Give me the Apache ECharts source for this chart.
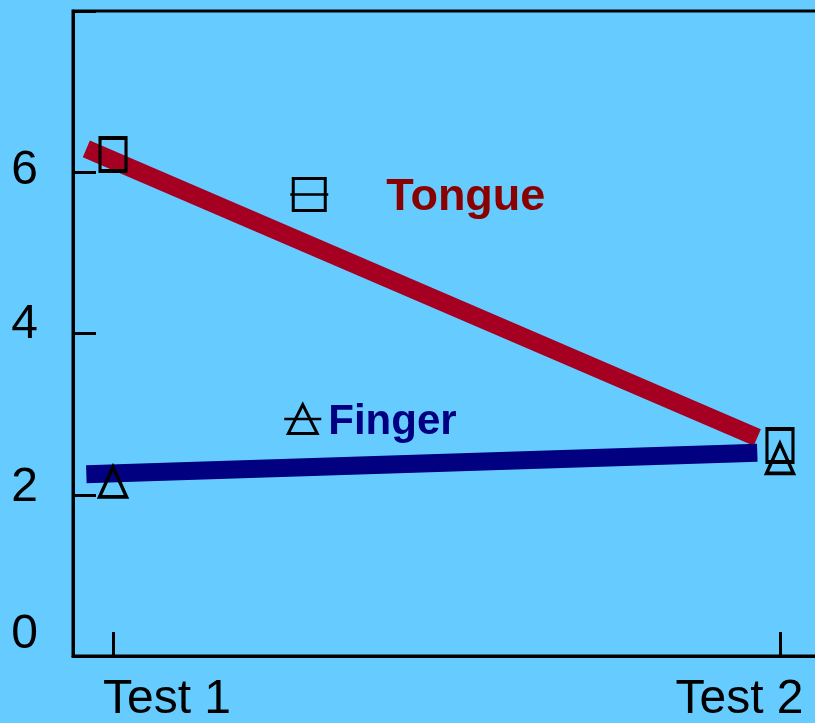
<!DOCTYPE html>
<html>
<head>
	<meta charset="utf-8">
	<title>Tongue vs Finger</title>
	<script src="https://cdn.jsdelivr.net/npm/echarts@6/dist/echarts.min.js"></script>
	<style>
		html, body { margin: 0; padding: 0; background: #66CCFF; }
	</style>
</head>
<body>
	<div id="main" style="width: 815px;height: 723px;"></div>
<script type="text/javascript">
	// x positions: Test 1 = 1, Test 2 = 2
	var testNames = ['Test 1', 'Test 2'];
	var testPos = [1, 2];
	var yTicks = [0, 2, 4, 6, 8];
	var yLabels = [0, 2, 4, 6];

	// observed scores (open markers)
	var tongueScores = [6.22, 2.61];
	var fingerScores = [2.16, 2.45];

	// thick trend lines, [x, y]
	var tongueTrend = [[0.96, 6.29], [1.966, 2.71]];
	var fingerTrend = [[0.96, 2.255], [1.966, 2.52]];

	var font = 'Liberation Sans, Arial, sans-serif';

	function pts(vals) {
		return vals.map(function (v, i) { return [testPos[i], v]; });
	}

	var myChart = echarts.init(document.getElementById('main'));
	var option = {
		backgroundColor: '#66CCFF',
		animation: false,
		grid: {
			left: 73, top: 11, bottom: 67, right: -5,
			show: true, borderColor: '#000', borderWidth: 3,
			backgroundColor: 'transparent',
			outerBoundsMode: 'none'
		},
		xAxis: {
			type: 'value',
			min: 0.94,
			max: 2.06,
			splitLine: {show: false},
			axisLine: {lineStyle: {color: '#000', width: 3}},
			axisTick: {
				inside: true, length: 24,
				lineStyle: {color: '#000', width: 3},
				customValues: testPos
			},
			axisLabel: {
				customValues: testPos,
				margin: 20,
				color: '#000',
				fontFamily: font,
				fontSize: 48,
				formatter: function (v) {
					return v === 1 ? '{a|' + testNames[0] + '}' : '{b|' + testNames[1] + '}';
				},
				rich: {
					a: {fontFamily: font, fontSize: 48, color: '#000', padding: [0, 0, 0, 108]},
					b: {fontFamily: font, fontSize: 48, color: '#000', padding: [0, 81, 0, 0]}
				}
			}
		},
		yAxis: {
			type: 'value',
			min: 0,
			max: 8,
			interval: 2,
			splitLine: {show: false},
			axisLine: {lineStyle: {color: '#000', width: 3}},
			axisTick: {
				inside: true, length: 23,
				lineStyle: {color: '#000', width: 3},
				customValues: yTicks
			},
			axisLabel: {
				customValues: yLabels,
				margin: 35,
				color: '#000',
				fontFamily: font,
				fontSize: 48,
				formatter: function (v) { return '{p' + v + '|' + v + '}'; },
				rich: {
					p0: {fontFamily: font, fontSize: 48, color: '#000', padding: [0, 0, 42, 0]},
					p2: {fontFamily: font, fontSize: 48, color: '#000', padding: [0, 0, 14, 0]},
					p4: {fontFamily: font, fontSize: 48, color: '#000', padding: [0, 0, 18, 0]},
					p6: {fontFamily: font, fontSize: 48, color: '#000', padding: [0, 0, 2, 0]}
				}
			}
		},
		legend: [{
			data: ['Tongue'],
			selectedMode: false,
			left: 289, top: 175,
			padding: 0,
			itemWidth: 38, itemHeight: 40,
			lineStyle: {color: '#000', width: 2.5},
			itemStyle: {color: 'transparent', borderColor: '#000', borderWidth: 3},
			formatter: '{t|{name}}',
			textStyle: {
				rich: {
					t: {fontFamily: font, fontSize: 45, fontWeight: 'bold', color: '#880000', padding: [6, 0, 0, 53]}
				}
			}
		}, {
			data: ['Finger'],
			selectedMode: false,
			left: 283, top: 401,
			padding: 0,
			itemWidth: 37, itemHeight: 36,
			lineStyle: {color: '#000', width: 2.5},
			itemStyle: {color: 'transparent', borderColor: '#000', borderWidth: 3},
			formatter: '{t|{name}}',
			textStyle: {
				rich: {
					t: {fontFamily: font, fontSize: 42, fontWeight: 'bold', color: '#000080', padding: [6, 0, 0, 2]}
				}
			}
		}],
		series: [{
			name: 'Tongue',
			type: 'line',
			symbol: 'rect',
			showSymbol: false,
			lineStyle: {color: '#A50021', width: 18, cap: 'butt'},
			itemStyle: {color: '#A50021'},
			data: tongueTrend,
			z: 2
		}, {
			name: 'Finger',
			type: 'line',
			symbol: 'triangle',
			showSymbol: false,
			lineStyle: {color: '#000080', width: 18, cap: 'butt'},
			itemStyle: {color: '#000080'},
			data: fingerTrend,
			z: 2
		}, {
			name: 'Tongue scores',
			type: 'scatter',
			symbol: 'rect',
			symbolSize: [26, 33],
			itemStyle: {color: 'transparent', borderColor: '#000', borderWidth: 3.5, opacity: 1},
			data: pts(tongueScores),
			z: 5
		}, {
			name: 'Finger scores',
			type: 'scatter',
			symbol: 'triangle',
			symbolSize: [27, 30],
			itemStyle: {color: 'transparent', borderColor: '#000', borderWidth: 3.5, opacity: 1},
			data: pts(fingerScores),
			z: 5
		}]
	};
	myChart.setOption(option);
</script>
</body>
</html>
